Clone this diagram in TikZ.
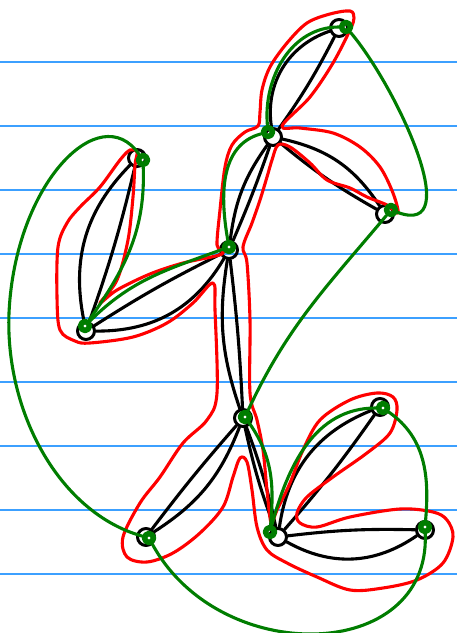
\documentclass[tikz,border=0pt]{standalone}
\usepackage{tikz}
\usetikzlibrary{arrows.meta, positioning}

\definecolor{verdeRuta}{RGB}{0,125,0}
\definecolor{azulRegla}{RGB}{60,160,255}

\begin{document}
\begin{tikzpicture}[x=1pt, y=1pt, line cap=round, line join=round]
    \tikzset{
        vertice/.style={circle, draw, line width=3pt, minimum size=17pt, inner sep=0pt},
        punto/.style={circle, draw=verdeRuta, line width=5.5pt, minimum size=9pt, inner sep=0pt},
        arista/.style={line width=3.1pt},
        ruta/.style={draw=verdeRuta, line width=3.1pt},
        contorno/.style={draw=red, line width=3.1pt},
        regla/.style={draw=azulRegla, line width=1.2pt}
    }
    \useasboundingbox (0,0) rectangle (457,633);

    % Renglones
    \foreach \y in {62,126,...,574}
        \draw[regla] (0,633-\y) -- (457,633-\y);

    % Nodos
    \node[vertice] (a) at (339,605) {};
    \node[vertice] (b) at (273,496) {};
    \node[vertice] (c) at (385,419) {};
    \node[vertice] (d) at (137,475) {};
    \node[vertice] (e) at (229,383) {};
    \node[vertice] (f) at (86,302)  {};
    \node[vertice] (g) at (243,215) {};
    \node[vertice] (h) at (146,96)  {};
    \node[vertice] (i) at (278,96)  {};
    \node[vertice] (j) at (380,226) {};
    \node[vertice] (k) at (425,103) {};

    % Aristas (dobles)
    \draw[arista] (a) to[bend right=40] (b);
    \draw[arista] (a) to[bend left=4]   (b);
    \draw[arista] (b) to[bend left=22]  (c);
    \draw[arista] (b) to[bend right=5]  (c);
    \draw[arista] (b) to[bend right=14] (e);
    \draw[arista] (b) to[bend left=2]   (e);
    \draw[arista] (e) to[bend left=30]  (f);
    \draw[arista] (e) to[bend right=3]  (f);
    \draw[arista] (f) to[bend left=28]  (d);
    \draw[arista] (f) to[bend right=3]  (d);
    \draw[arista] (e) to[bend right=14] (g);
    \draw[arista] (e) to[bend left=2]   (g);
    \draw[arista] (g) to[bend left=18]  (h);
    \draw[arista] (g) to[bend right=2]  (h);
    \draw[arista] (g) to[bend left=4]   (i);
    \draw[arista] (g) to[bend right=4]  (i);
    \draw[arista] (i) to[bend left=30]  (j);
    \draw[arista] (i) to[bend right=3]  (j);
    \draw[arista] (i) to[bend right=32] (k);
    \draw[arista] (i) to[bend left=4]   (k);

    % Contorno
    \begin{scope}[yshift=633pt, yscale=-1]
        \draw[contorno] plot[smooth cycle, tension=0.55] coordinates {
            (350,11) (330,14) (307,23) (287,43) (270,67) (262,90) (260,112)
            (258,126) (245,132) (232,145) (225,167) (220,210) (217,245) (222,254)
            (183,263) (150,274) (117,290) (100,303) (117,280) (128,240) (133,197)
            (135,165) (137,152) (130,150) (120,160) (100,187) (80,207) (67,223)
            (58,247) (57,297) (60,330) (75,341) (90,343) (133,337) (167,323)
            (193,303) (213,283) (215,310) (217,393) (207,420) (183,443) (160,477)
            (140,503) (123,537) (127,557) (147,562) (173,553) (200,533) (223,507)
            (233,477) (240,458) (247,462) (252,490) (257,527) (267,550) (287,563)
            (317,577) (350,590) (383,588) (417,580) (443,563) (453,537) (447,520)
            (433,512) (400,509) (350,517) (317,527) (300,523) (297,513) (307,497)
            (333,477) (367,453) (390,433) (397,410) (393,397) (377,393) (350,400)
            (320,420) (303,450) (290,483) (277,510) (271,522) (267,490) (263,450)
            (257,420) (250,393) (250,320) (247,263) (243,247) (252,223) (260,200)
            (267,177) (272,160) (278,145) (290,147) (310,163) (327,180) (350,188)
            (367,197) (387,205) (398,213) (393,193) (380,167) (360,147) (333,133)
            (300,128) (282,126) (310,97) (333,63) (350,30) (354,18)};
    \end{scope}

    % Ruta
    \node[punto] (ga) at (346,606) {};
    \node[punto] (gb) at (268,501) {};
    \node[punto] (gc) at (391,423) {};
    \node[punto] (gd) at (143,473) {};
    \node[punto] (ge) at (229,386) {};
    \node[punto] (gf) at (85,307)  {};
    \node[punto] (gg) at (245,216) {};
    \node[punto] (gh) at (149,95)  {};
    \node[punto] (gi) at (270,101) {};
    \node[punto] (gj) at (383,225) {};
    \node[punto] (gk) at (425,106) {};
    \coordinate (w) at (9,320);

    \draw[ruta] (gb) to[out=95, in=180] (ga);
    \draw[ruta] (ga) to[out=-50, in=-20] (gc);
    \draw[ruta] (gc) to[out=-130, in=65] (gg);
    \draw[ruta] (gg) to[out=-55, in=85] (gi);
    \draw[ruta] (gi) to[out=75, in=180] (gj);
    \draw[ruta] (gj) to[out=-35, in=85] (gk);
    \draw[ruta] (gk) .. controls (430,-30) and (220,-35) .. (gh);
    \draw[ruta] (gh) .. controls (60,120) and (5,220) .. (w)
                     .. controls (15,450) and (100,535) .. (gd);
    \draw[ruta] (gd) to[out=-88, in=55] (gf);
    \draw[ruta] (gf) to[out=45, in=-160] (ge);
    \draw[ruta] (ge) to[out=100, in=195] (gb);
\end{tikzpicture}
\end{document}
